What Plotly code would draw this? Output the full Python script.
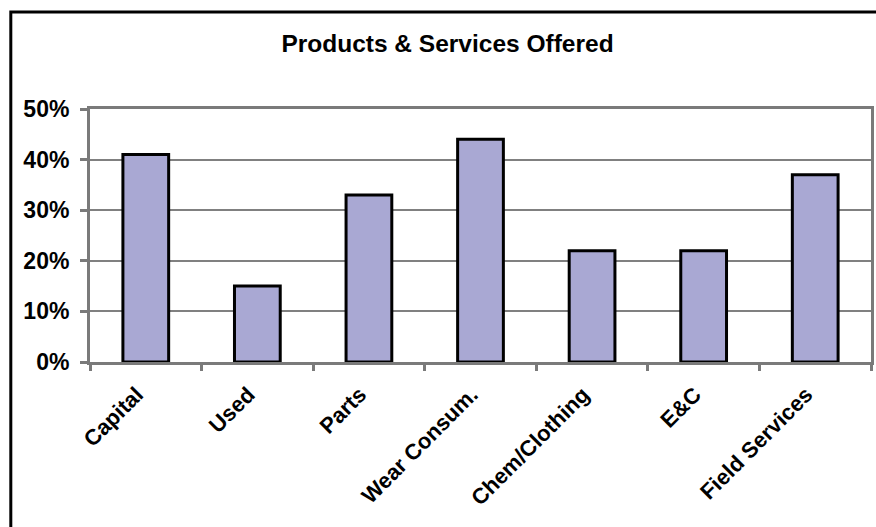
import plotly.graph_objects as go

categories = ["Capital", "Used", "Parts", "Wear Consum.", "Chem/Clothing", "E&C", "Field Services"]
values = [0.41, 0.15, 0.33, 0.44, 0.22, 0.22, 0.37]
title_text = "Products & Services Offered"

W, H = 876, 527
L, R, T, B = 90, 2, 109, 165
pw, ph = W - L - R, H - T - B

def px_x(x):
    return (x - L) / pw

def px_y(y):
    return (H - B - y) / ph

FONT = "Arial, Liberation Sans, sans-serif"

fig = go.Figure(go.Bar(
    x=categories, y=values,
    marker=dict(color="#A9A8D3", line=dict(color="black", width=3)),
))

fig.update_layout(
    width=W, height=H,
    margin=dict(l=L, r=R, t=T, b=B),
    paper_bgcolor="white", plot_bgcolor="white",
    bargap=0.59,
    showlegend=False,
    title=dict(text="<b>" + title_text + "</b>", x=447.5 / W, xref="container", xanchor="center",
               y=1 - 43 / H, yref="container", yanchor="middle",
               font=dict(family=FONT, size=24.5, color="black")),
    font=dict(family=FONT, color="black"),
    shapes=[dict(type="rect", xref="paper", yref="paper",
                 x0=px_x(10.5), x1=px_x(W + 20), y0=px_y(H + 20), y1=px_y(12),
                 line=dict(color="black", width=3), fillcolor="rgba(0,0,0,0)", layer="above")],
)

fig.update_yaxes(
    range=[0, 0.5], dtick=0.1, tickformat=".0%",
    showgrid=True, gridcolor="#808080", gridwidth=1.5,
    showline=True, linecolor="#7a7a7a", linewidth=3, mirror=True,
    ticks="outside", ticklen=7, tickwidth=3, tickcolor="#7a7a7a",
    tickfont=dict(family=FONT, size=23, color="black", weight="bold"),
    ticklabelstandoff=6,
    zeroline=False,
)
fig.update_xaxes(
    tickangle=-45, tickson="boundaries",
    showline=True, linecolor="#7a7a7a", linewidth=3, mirror=True,
    ticks="outside", ticklen=6, tickwidth=3, tickcolor="#7a7a7a",
    tickfont=dict(family=FONT, size=22, color="black", weight="bold"),
    ticklabelstandoff=8, ticklabelshift=-9,
    showgrid=False,
)

fig.write_html("out.html")
